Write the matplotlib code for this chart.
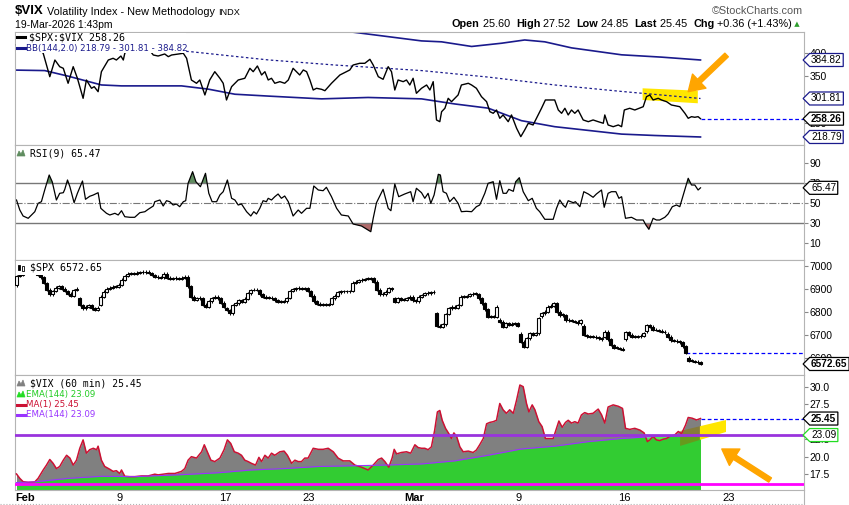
import numpy as np
import matplotlib.pyplot as plt
from matplotlib.path import Path
from matplotlib.patches import Polygon, Rectangle
from matplotlib.lines import Line2D
from matplotlib.ticker import FormatStrFormatter

plt.rcParams['font.family'] = ['Liberation Sans', 'DejaVu Sans']

# x = hourly bar number, 7 bars per session, bar 0 = first bar of Feb 2
ratio_x = [0, 3.3, 6.7, 8.9, 11.1, 12.8, 14.4, 15.6, 17.2, 18.9,
           20.3, 22.2, 23.3, 25, 25.9, 27.2, 28.3, 30.6, 32.2, 33.3,
           34.8, 35.6, 36.1, 38.3, 41.7, 44.3, 45.6, 47.2, 49.4, 50.6,
           51.7, 53.9, 55.6, 56.7, 58.3, 60, 61.1, 62.8, 64.4, 66.1,
           67.8, 68.9, 70, 71.7, 72.8, 73.9, 76.1, 77.8, 78.9, 80.3,
           81.7, 82.8, 83.9, 85, 86.1, 87.8, 89.4, 90.6, 92.2, 93.3,
           94.4, 95.6, 96.7, 97.8, 98.9, 100, 101.7, 102.8, 105, 106.1,
           107.8, 110, 111.1, 112.2, 114.4, 116.1, 117.8, 118.9, 120.6, 122.2,
           123.9, 125, 126.1, 127.2, 128.9, 130, 131.1, 132.2, 133.3, 135,
           136.7, 137.8, 138.9, 140, 141.1, 141.7, 142.8, 143.9, 145, 146.1,
           147.2, 148.3, 150.6, 151.7, 153.3, 155, 156.7, 157.8, 158.9, 160,
           161.1, 162.2, 163.9, 165, 166.7, 168.1, 169.4, 170.6, 172.2, 173.9,
           175, 176.3, 179.4, 180.6, 181.7, 182.8, 183.9, 185, 186.1, 187.2,
           188.9, 190.6, 192.2, 193.9, 195.6, 196.1, 197.2, 198.9, 200.6, 201.7,
           202.6, 204.4, 206.1, 208.9, 210, 211.1, 212.2, 213.9, 215, 216.7,
           218.3, 220, 221.1, 222.8, 223.9, 225, 226.1, 227.2, 228]
ratio_v = [417, 428, 413, 399.3, 348.8, 384.8, 370.4, 366.9, 334.6, 370.4,
           345.4, 302.2, 341.7, 323.8, 327.3, 316.5, 359.6, 384.8, 388.5, 384.8,
           393.4, 384.8, 399.3, 417, 423.6, 406.4, 395.6, 393.4, 397.8, 392,
           395.6, 397.8, 399.3, 388.5, 341.7, 334.6, 341.7, 309.4, 341.7, 359.6,
           345.4, 334.6, 298.6, 327.3, 334.6, 341.7, 345.4, 366.9, 359.6, 371.9,
           352.5, 359.6, 341.7, 345.4, 334.6, 338.1, 334.6, 341.7, 366.9, 359.6,
           352.5, 363.3, 359.6, 341.7, 320.1, 323.8, 321.6, 318.6, 334.6, 341.7,
           352.5, 359.6, 363.3, 374, 377.7, 377.7, 386.3, 374, 348.8, 343.2,
           370.4, 359.6, 320.1, 341.7, 338.1, 341.7, 330.9, 345.4, 313, 323.8,
           330.9, 320.1, 338.1, 255.5, 251.8, 273.3, 280.7, 302.2, 294.9, 302.2,
           309.4, 330.9, 334.6, 330.9, 323.8, 305.7, 294.9, 273.3, 269.9, 277,
           259.1, 266.3, 251.8, 266.3, 237.6, 219.5, 233.9, 248.4, 244.7, 266.3,
           280.7, 298.6, 298.6, 277, 269.9, 280.7, 266.3, 277, 269.9, 277,
           255.5, 251.8, 255.5, 251.8, 248.4, 266.3, 244.7, 241, 244.7, 241,
           277, 280.7, 277, 284.1, 305.7, 309.4, 298.6, 302.2, 298.6, 294.9,
           287.8, 285.6, 284.1, 269.9, 259.1, 262.6, 261.3, 262.6, 258.26]

bb_upper_x = [0, 61.7, 108.3, 121.7, 135, 141.7, 151.7, 161.7, 169.4, 176.1, 185, 201.7, 215, 228]
bb_upper_v = [471, 467, 448, 437, 426, 424, 414, 421, 428, 424, 411, 396, 391, 384.82]
bb_mid_x = [0, 28.3, 57.7, 83.9, 106.1, 135, 157.2, 179.4, 201.7, 228]
bb_mid_v = [424, 413, 403, 385, 374, 362, 348, 331, 317, 301.81]
bb_lower_x = [0, 9.4, 17.2, 28.3, 35, 55, 63.9, 72.8, 83.9, 101.7,
              117.2, 135, 146.1, 157.2, 168.3, 179.4, 201.7, 212.8, 228]
bb_lower_v = [363, 362, 350, 331, 329, 329, 322, 311, 307, 301,
              304, 301, 290, 281, 254, 241, 225, 222, 218.79]

rsi_x = [0, 1.1, 2.2, 3.9, 5, 6.1, 7.2, 8.3, 9.4, 10.9,
         11.9, 13.3, 14.4, 15.6, 16.1, 17, 17.8, 19.2, 20.3, 22,
         23, 24.4, 25.6, 27.2, 28.1, 30, 31.1, 32.8, 33.9, 35,
         36.1, 37.8, 39.4, 41.1, 42.8, 43.9, 45.6, 46.1, 47.8, 48.9,
         50, 51.1, 52.2, 53.3, 54.4, 55.6, 56.4, 57.2, 58.7, 59.8,
         61.3, 63, 64.1, 65.2, 66.7, 67.8, 68.9, 70.3, 71.7, 72.8,
         73.9, 75, 76.7, 78.1, 79.1, 80, 81.1, 82.2, 83.3, 83.9,
         85, 86.1, 87.2, 88.3, 89.4, 90.6, 92.2, 93.9, 95, 96.7,
         97.8, 99.1, 100.6, 102.2, 103.3, 105, 106.7, 108.3, 110.6, 112.2,
         115, 118.1, 118.9, 120, 122.2, 123.9, 124.8, 126.1, 127.4, 129.4,
         131.4, 132.2, 133.3, 135, 136.1, 137.2, 138.1, 139.2, 140, 140.6,
         141.3, 142.2, 143.3, 144.4, 145.8, 147.2, 148.3, 150, 151.7, 153.3,
         154.4, 156.1, 157.2, 158.9, 160, 161.1, 162.2, 163.3, 164.1, 165.6,
         166.4, 167.6, 168.9, 170.6, 171.9, 173.3, 174.4, 176.1, 178.9, 180,
         181.1, 182.2, 183, 183.9, 185.6, 186.3, 187.8, 189.1, 190.6, 192.2,
         193.3, 195, 195.9, 197.2, 198.3, 199.8, 200.8, 201.7, 203, 205,
         206.7, 208.9, 209.8, 210.8, 212.2, 213.3, 214.4, 216.1, 217.2, 218.6,
         220, 221.1, 222.8, 223.9, 225, 226.1, 227.2, 228]
rsi_v = [53.3, 43.3, 37.3, 35, 38.3, 41.6, 50, 51.6, 63.3, 78.3,
         71.6, 53.3, 60, 60.6, 64, 73.3, 66.6, 50.6, 60, 72.3,
         54, 57, 58.3, 60.6, 45, 40, 38.3, 40, 38.3, 42.6,
         36.6, 36, 36, 40.6, 41.6, 44, 47.3, 51.6, 53.3, 47.3,
         52.6, 51.6, 48.3, 49.3, 46.6, 51.6, 52.6, 70, 81.6, 71.6,
         66.6, 80, 60, 51.6, 51.6, 58.3, 61.6, 73.3, 55, 53.3,
         48.3, 49.3, 41.6, 37.3, 41.6, 39.3, 45, 52.6, 51.6, 55,
         53.3, 56.6, 59.3, 55, 57.3, 51.6, 37.3, 43.3, 40, 45,
         45, 67.3, 63.3, 62.6, 66, 56.6, 45, 38.3, 37.3, 29.3,
         27.3, 21.6, 35, 50.6, 64, 45, 42.6, 69.3, 56.6, 59.3,
         61.6, 51.6, 65, 60.6, 55, 60, 50, 58.3, 70, 79,
         78.3, 61.6, 60, 51.6, 56, 50, 41.6, 42, 41.6, 46.6,
         48.3, 60, 70, 71.6, 54, 72.6, 60, 60, 64, 62,
         71.6, 75.6, 61.6, 52.6, 55, 45, 41.6, 34, 34, 45,
         53.3, 48.3, 46, 52.6, 50.6, 51.6, 46.6, 61.6, 59.3, 56,
         59.3, 63.3, 46, 60, 61.6, 61.6, 55, 56.6, 35, 36,
         33.3, 33.3, 28.3, 24, 35, 33.3, 33.3, 36, 39.3, 46.6,
         48.3, 46.6, 64, 75, 68.3, 68.3, 63.3, 65.47]

# $SPX hourly closes, one row per session (Feb 2 ... Mar 19)
spx_close = [
    6955, 6960, 6985, 6990, 6985, 6990, 6975,
    6960, 6950, 6925, 6895, 6875, 6890, 6905,
    6912, 6900, 6890, 6878, 6868, 6894, 6900,
    6829, 6815, 6822, 6829, 6815, 6807, 6818,
    6865, 6887, 6900, 6905, 6909, 6908, 6918,
    6940, 6955, 6965, 6967, 6966, 6970, 6971,
    6972, 6974, 6968, 6960, 6952, 6950, 6948,
    6966, 6948, 6943, 6945, 6945, 6942, 6948,
    6952, 6910, 6865, 6851, 6858, 6858, 6830,
    6822, 6845, 6860, 6865, 6858, 6840, 6820,
    6807, 6793, 6829, 6836, 6851, 6844, 6856,
    6880, 6894, 6894, 6894, 6876, 6866, 6861,
    6860, 6858, 6850, 6844, 6844, 6846, 6858,
    6890, 6898, 6902, 6902, 6900, 6902, 6890,
    6870, 6845, 6835, 6829, 6829, 6829, 6832,
    6858, 6870, 6885, 6888, 6890, 6888, 6890,
    6926, 6930, 6936, 6940, 6942, 6944, 6945,
    6930, 6895, 6876, 6875, 6887, 6902, 6898,
    6844, 6858, 6852, 6851, 6858, 6865, 6850,
    6845, 6865, 6873, 6880, 6880, 6884, 6887,
    6740, 6735, 6745, 6790, 6815, 6822, 6818,
    6829, 6865, 6866, 6868, 6875, 6878, 6880,
    6858, 6836, 6810, 6778, 6778, 6778, 6822,
    6757, 6735, 6749, 6742, 6748, 6749, 6740,
    6670, 6648, 6684, 6706, 6700, 6706, 6771,
    6793, 6800, 6822, 6826, 6836, 6800, 6785,
    6785, 6762, 6762, 6760, 6757, 6749, 6764,
    6699, 6693, 6691, 6691, 6688, 6684, 6680,
    6713, 6680, 6655, 6644, 6642, 6640, 6634,
    6710, 6700, 6691, 6691, 6693, 6695, 6706,
    6742, 6735, 6722, 6720, 6718, 6713, 6710,
    6691, 6675, 6673, 6672, 6667, 6650, 6620,
    6586, 6586, 6583, 6580, 6572.65,
]
spx_day_open = [6915, 6965, 6905, 6860, 6830, 6918, 6971, 6950, 6948, 6830, 6815,
                6856, 6862, 6860, 6890, 6835, 6892, 6945, 6860, 6850, 6793, 6818,
                6875, 6765, 6705, 6780, 6790, 6740, 6690, 6680, 6715, 6705, 6600]

vix_x = [0, 1.1, 2.2, 3.9, 6.1, 7.2, 8.9, 10, 11.1, 12.2,
         13.3, 14.4, 15.6, 16.7, 17.8, 18.9, 20, 21.1, 22.2, 23.3,
         24.4, 25.6, 26.7, 27.2, 28.3, 29.4, 31.1, 32.2, 33.3, 34.4,
         35, 36.1, 37.8, 39.4, 41.7, 43.9, 46.1, 47.2, 48.9, 50.6,
         52.8, 55, 56.1, 57.2, 58.3, 60, 61.7, 62.6, 63.3, 64.8,
         66.1, 67.8, 69.2, 70.3, 71.4, 72.6, 73.9, 75, 76.1, 77.2,
         78.3, 79.7, 80.8, 81.7, 82.8, 83.9, 85, 86.1, 87.8, 89.2,
         90.3, 91.7, 92.8, 93.9, 95, 96.1, 97.2, 98.9, 100.6, 102.2,
         103.9, 105.6, 107.2, 108.9, 111.1, 112.8, 115, 117.2, 118.9, 120.6,
         121.7, 122.8, 124.1, 125.2, 125.9, 126.7, 128.3, 130, 131.4, 132.8,
         133.9, 135, 136.1, 137.2, 138.3, 139.4, 140.3, 141.1, 141.9, 143,
         144.1, 145, 145.8, 146.7, 147.8, 148.9, 150.6, 152.2, 153.3, 154.4,
         155.6, 156.7, 157.8, 158.9, 160, 161.1, 162.2, 163.3, 164.4, 165.6,
         166.7, 167.8, 168.9, 170, 170.8, 171.9, 172.8, 174.1, 175.2, 176.3,
         177.8, 178.9, 180, 180.8, 181.9, 183, 183.9, 185, 186.1, 187.2,
         188.3, 189.4, 190.6, 192.2, 193.9, 195, 196.1, 197.2, 198.9, 200.6,
         202, 203, 204.4, 206.1, 207.8, 209.2, 210.3, 211.1, 212.2, 213.3,
         214.4, 215.6, 216.7, 217.8, 219.4, 220.6, 221.7, 223, 223.9, 225.2,
         226.7, 228]
vix_v = [17.53, 16.9, 16.43, 16.34, 16.4, 16.9, 18.1, 18.8, 19.6, 19.05,
         18.3, 18.6, 19.5, 20.2, 19.8, 18.8, 19.5, 21.2, 22.4, 20.5,
         21, 21.2, 21, 21.5, 19.5, 18.6, 18.2, 17.9, 18.0, 17.6,
         18.1, 17.2, 17.15, 17.15, 17.25, 17.25, 17.5, 17.4, 17.5, 17.6,
         17.6, 17.9, 18.3, 19.5, 20, 19.8, 20.7, 21.7, 21, 19.5,
         19.3, 19.8, 21, 22.4, 21.9, 20.7, 20.5, 20.2, 19.5, 19.3,
         19.05, 18.8, 19.9, 19.3, 20.2, 19.8, 20.5, 20.2, 20.7, 20.8,
         20.2, 19.05, 19.5, 19.3, 19.3, 19.8, 19.8, 21.2, 21.05, 21.05,
         21.2, 20.7, 19.8, 19.4, 19.4, 18.8, 18.5, 18.1, 18.8, 19.6,
         19.8, 19.3, 18.5, 19.8, 21.05, 20.4, 20.6, 20.7, 20.5, 21.7,
         21.3, 21.2, 21.2, 21, 21.4, 23.8, 26.4, 26.6, 25.2, 24.05,
         23.3, 22.6, 23.4, 22.9, 21.4, 20.7, 20.8, 20.6, 20.95, 21.7,
         22.6, 24.7, 24.9, 25, 25.2, 27.6, 26.7, 26.2, 26.7, 26.2,
         28.1, 30.24, 30.0, 27.6, 26.4, 27.4, 26.7, 25, 24.3, 22.6,
         22.6, 22.6, 24.05, 25.1, 24.2, 24.9, 25.2, 24.8, 25, 24.8,
         25.96, 26.3, 26.1, 26.2, 26.8, 26, 24.8, 27.1, 27.4, 27.2,
         26.9, 24.05, 23.9, 24.05, 23.8, 23.4, 22.15, 22.4, 22.9, 22.4,
         22.3, 22.5, 22.6, 22.9, 23.1, 23.6, 23.3, 24.5, 25.6, 25.5,
         25.25, 25.45]

ema_x = [0, 6.1, 17.2, 28.3, 39.4, 56.1, 67.2, 78.3, 89.4, 100.6, 111.7,
         122.8, 135, 146.1, 157.2, 168.3, 179.4, 190.6, 201.7, 212.8, 221.7, 228]
ema_v = [16.3, 16.4, 16.9, 17.2, 17.15, 17.45, 17.7, 18.1, 18.3, 18.6, 18.7,
         18.8, 18.96, 19.4, 20.2, 21.1, 21.5, 22.15, 22.6, 22.9, 23.0, 23.09]
vix_floor = 16.1

day_ticks = [0, 5, 10, 14, 19, 24, 29, 34]
day_labels = ['Feb', '9', '17', '23', 'Mar', '9', '16', '23']

W, H = 849, 505
fig = plt.figure(figsize=(W / 100, H / 100), dpi=100)


def pt(x, y):
    return x / W, 1 - y / H


def panel(top, bottom):
    ax = fig.add_axes([15 / W, 1 - bottom / H, 789 / W, (bottom - top) / H])
    ax.set_xlim(-0.5, 262.5)
    for s in ax.spines.values():
        s.set_color('#b4b4b4')
    ax.yaxis.tick_right()
    ax.tick_params(axis='y', direction='out', length=3, width=0.8, color='#888888',
                   labelsize=7.5, pad=1)
    ax.tick_params(axis='x', length=0, labelbottom=False)
    return ax


def tag_box(x0, y0, width, height, mutation_size):
    pad = 0.15 * mutation_size
    x0, y0 = x0 - pad, y0 - pad
    x1, y1 = x0 + width + 2 * pad, y0 + height + 2 * pad
    tip = (y1 - y0) / 2
    return Path([(x0, y0), (x1, y0), (x1, y1), (x0, y1), (x0 - tip, y0 + tip), (x0, y0)],
                closed=True)


def tag(ax, y, edge, weight='normal'):
    ax.text(1.009, y, '%.2f' % y, transform=ax.get_yaxis_transform(), ha='left',
            va='center', fontsize=7.2, fontweight=weight, zorder=10, clip_on=False,
            bbox=dict(boxstyle=tag_box, fc='white', ec=edge, lw=0.9))


def label(x, y, s, **kw):
    fig.text(*pt(x, y), s, va='center', ha='left', parse_math=False, **kw)


def dash(x0, x1, y, color, lw=2.2):
    fig.add_artist(Line2D([x0 / W, x1 / W], [1 - y / H] * 2, color=color, lw=lw))


def mountain(x0, y, color):
    p = [pt(x0, y + 3), pt(x0 + 2, y - 2), pt(x0 + 4, y + 1), pt(x0 + 6, y - 3), pt(x0 + 8, y + 3)]
    fig.add_artist(Polygon(p, closed=True, fc=color, ec=color, lw=0.5))


navy = '#1a1a8c'

# ---- panel 1: $SPX:$VIX with Bollinger Bands
ax1 = panel(32, 145)
ax1.set_ylim(201.5, 445.2)
ax1.set_yticks([250, 350, 400])
ax1.fill([208.7, 227.1, 227.1, 208.7], [323.8, 318.6, 291.5, 298.6], color='#ffe600', lw=0, zorder=1)
ax1.plot(bb_upper_x, bb_upper_v, color=navy, lw=1.2, zorder=2)
ax1.plot(bb_lower_x, bb_lower_v, color=navy, lw=1.2, zorder=2)
ax1.plot(bb_mid_x, bb_mid_v, color=navy, lw=0.9, ls=(0, (2, 2)), zorder=2)
ax1.plot(ratio_x, ratio_v, color='black', lw=1.0, zorder=3)
ax1.hlines(ratio_v[-1], ratio_x[-1], 262.5, color='#0000ff', lw=0.9, ls=(0, (3, 2)))
ax1.annotate('', xy=(223.9, 316.5), xytext=(236.7, 395.6), annotation_clip=False,
             arrowprops=dict(color='#ffa500', width=3.6, headwidth=14, headlength=11, shrink=0))
tag(ax1, bb_upper_v[-1], navy)
tag(ax1, bb_mid_v[-1], navy)
tag(ax1, ratio_v[-1], 'black', 'bold')
tag(ax1, bb_lower_v[-1], navy)

# ---- panel 2: RSI(9)
ax2 = panel(145, 260)
ax2.set_ylim(-6.7, 108.3)
ax2.set_yticks([10, 30, 50, 70, 90])
ax2.axhline(70, color='#777777', lw=1)
ax2.axhline(30, color='#777777', lw=1)
ax2.axhline(50, color='#777777', lw=0.8, ls='-.')
rx, rv = np.array(rsi_x), np.array(rsi_v)
ax2.fill_between(rx, rv, 70, where=rv > 70, interpolate=True, color='#5f8c5f', lw=0)
ax2.fill_between(rx, rv, 30, where=rv < 30, interpolate=True, color='#b06a6a', lw=0)
ax2.plot(rx, rv, color='black', lw=0.9)
tag(ax2, rsi_v[-1], 'black')

# ---- panel 3: $SPX hourly candles
ax3 = panel(260, 375)
ax3.set_ylim(6524.8, 7024.8)
ax3.set_yticks([6600, 6700, 6800, 6900, 7000])
close = np.array(spx_close)
idx = np.arange(len(close))
opn = np.r_[close[0], close[:-1]]
opn[::7] = spx_day_open
up = close >= opn
lo = np.minimum(opn, close)
hgt = np.maximum(np.abs(close - opn), 2.5)
ax3.vlines(idx, lo - 6, lo + hgt + 6, color='black', lw=0.7, zorder=2)
ax3.bar(idx[up], hgt[up], bottom=lo[up], width=0.85, color='white', edgecolor='black', lw=0.8, zorder=3)
ax3.bar(idx[~up], hgt[~up], bottom=lo[~up], width=0.85, color='black', edgecolor='black', lw=0.8, zorder=3)
prev = 7 * (len(spx_day_open) - 1) - 1
ax3.hlines(close[prev], prev, 262.5, color='#0000ff', lw=0.9, ls=(0, (3, 2)))
tag(ax3, close[-1], 'black', 'bold')

# ---- panel 4: $VIX 60 min with EMA(144)
ax4 = panel(375, 490)
ax4.set_ylim(15.24, 31.67)
ax4.set_yticks([17.5, 20, 22.5, 27.5, 30])
ax4.yaxis.set_major_formatter(FormatStrFormatter('%.1f'))
ax4.fill_between(vix_x, vix_v, 15, color='#808080', lw=0, zorder=1)
ax4.fill_between(ema_x, ema_v, 15, color='#18e718', alpha=0.75, lw=0, zorder=2)
ax4.fill([221.2, 227.8, 227.8, 221.2], [23.67, 24.35, 22.39, 21.53], color='#8a7a10', alpha=0.6, lw=0, zorder=2.5)
ax4.fill([227.8, 236.5, 236.5, 227.8], [24.35, 25.24, 23.53, 22.39], color='#ffe600', lw=0, zorder=2.5)
ax4.plot(vix_x, vix_v, color='#cc1133', lw=1.1, zorder=3)
ax4.plot(ema_x, ema_v, color='#9933ff', lw=0.8, zorder=3)
ax4.axhline(ema_v[-1], color='#9933dd', lw=2, zorder=4)
ax4.axhline(vix_floor, color='#ff00ff', lw=2, zorder=4)
ax4.hlines(vix_v[-1], vix_x[-1], 262.5, color='#0000ff', lw=0.9, ls=(0, (3, 2)), zorder=4)
ax4.annotate('', xy=(235.1, 21.1), xytext=(251.2, 16.67), annotation_clip=False,
             arrowprops=dict(color='#ffa500', width=3.6, headwidth=14, headlength=11, shrink=0))
tag(ax4, vix_v[-1], 'black', 'bold')
tag(ax4, ema_v[-1], '#22dd22')

ax4.set_xticks([7 * d - 0.5 for d in day_ticks])
ax4.set_xticklabels(day_labels)
ax4.tick_params(axis='x', labelbottom=True, labelsize=8, pad=2)
for t, s in zip(ax4.get_xticklabels(), day_labels):
    if s in ('Feb', 'Mar'):
        t.set_fontweight('bold')
ax4.get_xticklabels()[0].set_ha('left')

# ---- legends
fig.add_artist(Rectangle(pt(16, 53), 170 / W, 20 / H, fc='white', ec='none', zorder=1))
fig.add_artist(Rectangle(pt(16, 275), 92 / W, 14 / H, fc='white', ec='none', zorder=1))
dash(17, 25, 37, 'black')
label(29, 37.5, '$SPX:$VIX 258.26', family='DejaVu Sans Mono', fontsize=7.2, zorder=2)
dash(17, 25, 48, navy)
label(26.5, 48, 'BB(144,2.0) 218.79 - 301.81 - 384.82', family='DejaVu Sans', fontsize=6.2,
      color=navy, zorder=2)
mountain(17, 153, '#5f8c5f')
label(30, 153.5, 'RSI(9) 65.47', family='DejaVu Sans Mono', fontsize=7)
fig.add_artist(Rectangle(pt(17.5, 270), 2.5 / W, 5 / H, fc='black', ec='black', lw=0.6, zorder=2))
fig.add_artist(Rectangle(pt(21.5, 271), 2.5 / W, 5 / H, fc='white', ec='black', lw=0.6, zorder=2))
label(30, 268, '$SPX 6572.65', family='DejaVu Sans Mono', fontsize=7.2, zorder=2)
mountain(17, 383, '#808080')
label(30, 383, '$VIX (60 min) 25.45', family='DejaVu Sans Mono', fontsize=7)
mountain(17, 394, '#22dd22')
label(26.5, 394, 'EMA(144) 23.09', family='DejaVu Sans', fontsize=6.2, color='#22cc22')
dash(17, 25, 404.5, '#cc1133')
label(26.5, 404.5, 'MA(1) 25.45', family='DejaVu Sans', fontsize=6.2, color='#cc1133')
dash(17, 25, 415, '#9933ff')
label(26.5, 415, 'EMA(144) 23.09', family='DejaVu Sans', fontsize=6.2, color='#9933ff')

# ---- header
label(15, 11.5, '$VIX', fontsize=9.5, fontweight='bold')
label(47, 12, 'Volatility Index - New Methodology', fontsize=7.8)
label(218, 12.5, 'INDX', fontsize=6.6)
label(15, 25, '19-Mar-2026 1:43pm', fontsize=7.5)
fig.text(*pt(803, 11.5), '\u00a9StockCharts.com', ha='right', va='center', fontsize=7.8,
         color='#555555')
parts = [('Open', 'bold'), (' 25.60  ', 'normal'), ('High', 'bold'), (' 27.52  ', 'normal'),
         ('Low', 'bold'), (' 24.85  ', 'normal'), ('Last', 'bold'), (' 25.45  ', 'normal'),
         ('Chg', 'bold'), (' +0.36 (+1.43%)', 'normal')]
prev_t = fig.text(*pt(452, 24), parts[0][0], ha='left', va='center', fontsize=7.8,
                  fontweight='bold')
for s, w in parts[1:]:
    prev_t = ax1.annotate(s, xy=(1, 0), xycoords=prev_t, ha='left', va='bottom',
                          fontsize=7.8, fontweight=w, annotation_clip=False)
ax1.annotate(' \u25b2', xy=(1, 0.15), xycoords=prev_t, ha='left', va='bottom', fontsize=5,
             color='#2e9e2e', family='DejaVu Sans', annotation_clip=False)

fig.add_artist(Line2D([804 / W] * 2, [0, 1 - 490 / H], color='#b4b4b4', lw=0.8))
fig.add_artist(Line2D([0, 804 / W], [1 - 503.5 / H] * 2, color='#b4b4b4', lw=0.8, ls=':'))

fig.savefig('out.png', dpi=100)
